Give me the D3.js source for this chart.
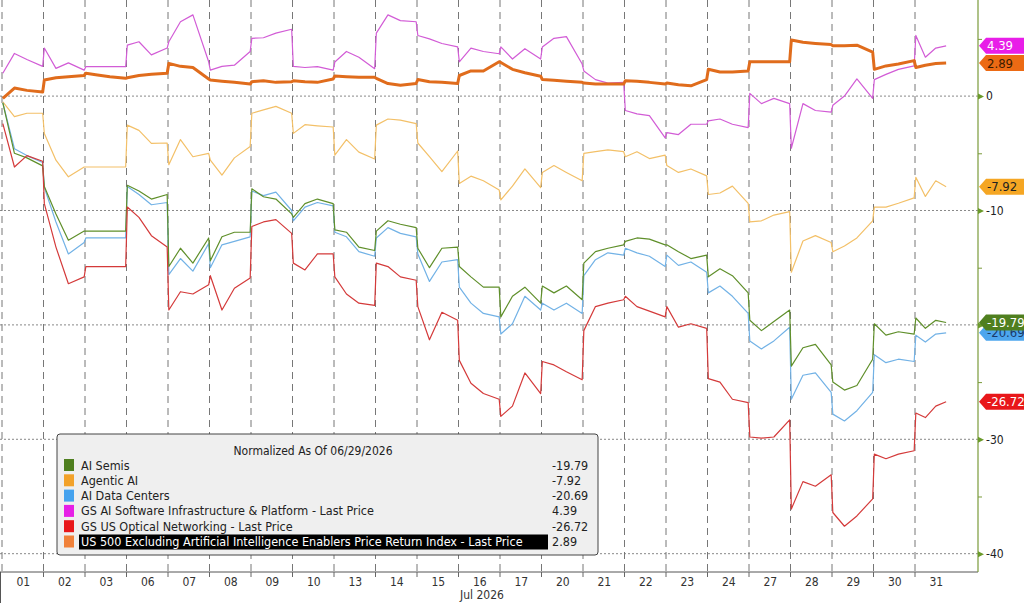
<!DOCTYPE html>
<html><head><meta charset="utf-8">
<script src="https://cdn.jsdelivr.net/npm/d3@7"></script>
<style>body{margin:0;background:#fff}svg{display:block}text{font-family:"Liberation Sans Narrow","DejaVu Sans Condensed","Liberation Sans",sans-serif}</style>
</head><body><svg id="c" width="1024" height="603"></svg>
<script>
const dayLabels=["01","02","03","06","07","08","09","10","13","14","15","16","17","20","21","22","23","24","27","28","29","30","31"];
const fracs=[0.02,0.3,0.6,0.98];
const lastFracs=[0.02,0.25,0.5,0.75];
const usEx=[-0.2,0.7,0.5,0.35, 1.4,1.6,1.7,1.8, 2.0,1.85,1.7,1.55, 1.6,1.8,1.9,2.0, 2.86,2.6,2.5,1.5, 1.4,1.3,1.2,1.05, 1.26,1.35,1.2,1.26, 1.35,1.25,1.2,1.5, 1.75,1.7,1.65,1.65, 1.55,1.1,0.95,1.1, 1.45,1.25,1.2,1.1, 1.8,2.2,2.2,3.0, 2.94,2.34,2.04,1.74, 1.44,1.38,1.29,1.2, 1.14,1.05,1.05,1.05, 1.35,1.29,1.2,1.05, 1.14,1.0,0.9,1.44, 2.34,2.1,2.1,2.2, 3.0,3.0,3.0,3.0, 4.9,4.7,4.6,4.5, 4.4,4.4,4.45,3.85, 2.34,2.64,2.8,3.1, 2.5,2.7,2.85,2.89];
const gsSoft=[2.0,3.73,3.2,2.6, 4.2,2.42,2.9,2.27, 2.57,2.57,2.57,2.57, 4.46,4.75,3.6,4.2, 4.75,6.5,7.1,3.0, 2.27,2.6,2.7,3.9, 5.05,5.1,5.5,5.84, 2.6,2.5,2.57,2.27, 2.98,3.9,3.4,2.4, 5.5,7.1,6.6,6.5, 5.3,5.0,4.6,4.3, 3.0,4.2,3.9,3.7, 4.3,3.24,4.14,3.24, 4.3,5.05,5.2,2.8, 2.2,1.44,1.14,1.2, -1.26,-1.56,-1.71,-3.66, -3.2,-3.36,-2.46,-2.46, -2.16,-2.0,-2.46,-2.76, 0.24,-0.66,-0.2,-0.66, -4.56,-0.66,-1.26,-1.4, -0.8,0.0,1.5,-0.2, 1.44,1.9,2.34,2.64, 5.3,3.4,4.2,4.39];
const agentic=[-0.5,-1.8,-1.5,-1.5, -3.27,-5.6,-7.06,-6.2, -6.2,-6.2,-6.2,-6.2, -2.54,-3.0,-4.14,-4.1, -6.0,-3.8,-5.3,-5.0, -5.6,-6.9,-5.4,-4.4, -1.5,-1.2,-0.9,-1.5, -3.26,-2.5,-2.6,-2.7, -5.16,-3.8,-4.9,-5.5, -2.54,-2.0,-2.1,-2.4, -4.1,-5.3,-6.6,-4.8, -7.64,-7.0,-7.4,-8.2, -9.07,-7.87,-6.37,-8.0, -6.67,-6.07,-6.67,-7.4, -5.0,-4.86,-4.7,-4.86, -5.3,-4.86,-5.46,-5.16, -6.07,-6.67,-6.37,-6.97, -8.6,-8.47,-7.87,-9.37, -11.0,-10.9,-10.4,-10.1, -15.4,-12.67,-12.2,-12.8, -13.6,-13.1,-12.4,-10.9, -9.7,-9.7,-9.37,-8.9, -7.1,-8.77,-7.4,-7.92];
const semis=[-0.6,-5.0,-5.4,-6.1, -7.9,-10.3,-12.6,-11.8, -11.8,-11.8,-11.8,-11.8, -7.8,-8.3,-9.0,-8.6, -14.9,-13.3,-14.6,-12.4, -14.4,-12.3,-11.9,-11.9, -8.1,-8.8,-9.0,-10.3, -10.6,-9.4,-9.0,-9.4, -11.7,-11.9,-13.2,-13.5, -11.8,-10.9,-11.2,-11.5, -13.3,-15.0,-13.3,-13.2, -14.9,-15.8,-16.7,-16.7, -19.3,-17.5,-16.7,-18.1, -16.6,-17.2,-16.6,-17.8, -14.6,-13.6,-13.3,-13.0, -12.7,-12.4,-12.5,-13.0, -13.0,-13.6,-14.2,-13.9, -15.8,-15.1,-15.7,-17.2, -19.6,-20.5,-19.7,-18.7, -23.6,-22.0,-21.7,-23.5, -25.0,-25.7,-25.3,-23.0, -19.9,-20.9,-20.6,-20.8, -19.4,-20.3,-19.6,-19.79];
const dataCenters=[-0.6,-4.6,-5.2,-5.8, -8.0,-11.0,-13.8,-12.8, -12.4,-12.4,-12.4,-12.4, -7.9,-8.6,-9.5,-9.3, -15.6,-14.2,-15.3,-12.9, -15.0,-13.0,-12.7,-12.3, -8.3,-8.7,-8.4,-10.0, -10.9,-9.7,-9.3,-9.6, -11.9,-12.3,-13.6,-14.0, -12.4,-11.5,-12.0,-12.3, -13.8,-16.2,-14.5,-14.3, -16.7,-18.1,-19.0,-19.3, -20.8,-19.9,-17.5,-18.7, -18.1,-18.7,-18.1,-19.0, -15.7,-14.3,-13.7,-13.9, -13.3,-13.7,-14.0,-14.9, -13.9,-14.8,-14.5,-15.4, -17.2,-16.6,-17.5,-19.0, -21.4,-22.1,-21.4,-20.2, -26.5,-24.4,-24.2,-25.9, -27.8,-28.4,-27.5,-25.9, -22.6,-23.3,-23.0,-23.2, -20.9,-21.5,-20.8,-20.69];
const optical=[-2.4,-6.2,-5.2,-5.7, -9.4,-13.2,-16.4,-15.8, -14.9,-14.9,-14.9,-14.9, -9.7,-10.6,-12.2,-13.2, -18.7,-17.1,-17.3,-16.5, -15.7,-18.7,-16.8,-15.9, -11.4,-11.0,-10.8,-12.0, -14.6,-15.2,-13.8,-13.8, -15.8,-17.3,-18.1,-18.3, -14.6,-14.9,-15.8,-16.1, -18.4,-21.3,-18.9,-19.6, -23.1,-25.1,-26.0,-26.5, -28.0,-27.1,-24.2,-26.0, -23.2,-23.5,-24.1,-24.8, -20.5,-18.4,-18.1,-17.8, -17.5,-18.4,-18.8,-19.3, -18.4,-20.2,-19.9,-20.3, -24.7,-25.0,-26.5,-26.8, -29.8,-29.9,-29.8,-28.3, -36.1,-33.7,-34.1,-33.1, -36.4,-37.6,-36.7,-35.2, -31.3,-31.7,-31.3,-31.0, -27.7,-28.1,-27.1,-26.72];
const names=["AI Semis","Agentic AI","AI Data Centers","GS AI Software Infrastructure & Platform - Last Price","GS US Optical Networking - Last Price","US 500 Excluding Artificial Intelligence Enablers Price Return Index - Last Price"];
const lastVals=["-19.79","-7.92","-20.69","4.39","-26.72","2.89"];
const yTicks=[0,-10,-20,-30,-40];

const times=[];
dayLabels.forEach((d,i)=>(i===dayLabels.length-1?lastFracs:fracs).forEach(f=>times.push(i+f)));
const series=[
 {v:semis,line:"#5f8f2a",leg:"#4f7f1f",w:1.2,tag:"#4f7f1f",tc:"#fff"},
 {v:agentic,line:"#f3c068",leg:"#f2a22a",w:1.2,tag:"#f5a623",tc:"#222"},
 {v:dataCenters,line:"#72b2e6",leg:"#45a2ee",w:1.2,tag:"#4da6ee",tc:"#1a3a6a"},
 {v:gsSoft,line:"#d25cd6",leg:"#e61fe6",w:1.2,tag:"#e81ee8",tc:"#fff"},
 {v:optical,line:"#d43a3a",leg:"#e8171a",w:1.2,tag:"#e8171a",tc:"#fff"},
 {v:usEx,line:"#e06c1c",leg:"#f0813a",w:3,tag:"#ec6a14",tc:"#3a1a00"}
];
const svg=d3.select("#c");
const x=d3.scaleLinear().domain([0,23]).range([2,956.5]);
const y=d3.scaleLinear().domain([8.4,-41.6]).range([0,572]);
const AX=978;
// grid
svg.append("g").selectAll("line").data(yTicks).join("line")
 .attr("x1",0).attr("x2",AX).attr("y1",d=>y(d)).attr("y2",d=>y(d))
 .attr("stroke","#888").attr("stroke-dasharray","2,2").attr("stroke-width",1);
svg.append("g").selectAll("line").data(d3.range(0,23)).join("line")
 .attr("x1",d=>x(d)).attr("x2",d=>x(d)).attr("y1",0).attr("y2",572)
 .attr("stroke","#777").attr("stroke-dasharray","7,5").attr("stroke-width",1);
// lines
const order=[1,3,2,0,4,5];
order.forEach(i=>{const s=series[i];
 svg.append("path").datum(s.v).attr("fill","none").attr("stroke",s.line).attr("stroke-width",s.w).attr("stroke-linejoin","round")
 .attr("d",d3.line().x((d,j)=>x(times[j])).y(d=>y(d)));});
// axes
svg.append("line").attr("x1",0).attr("x2",AX).attr("y1",572).attr("y2",572).attr("stroke","#555");
svg.append("line").attr("x1",0.5).attr("x2",0.5).attr("y1",572).attr("y2",603).attr("stroke","#555");
svg.append("line").attr("x1",AX).attr("x2",AX).attr("y1",0).attr("y2",572).attr("stroke","#7a9a3a").attr("stroke-width",1.2);
const ya=d3.axisRight(y).tickValues(d3.range(5,-41,-5)).tickSize(4).tickFormat(d=>d%10===0?(d===0?"0":"-"+Math.abs(d)):"");
const ga=svg.append("g").attr("transform",`translate(${AX},0)`).call(ya);
ga.select(".domain").remove();
ga.selectAll("line").attr("stroke","#7a9a3a");
ga.selectAll("text").attr("font-size",12).attr("fill","#222").attr("x",8);
ga.selectAll(".tick").filter(d=>d%10===0).append("path").attr("d","M0,-3L6,0L0,3Z").attr("fill","#6a9a2a");
const xa=d3.axisBottom(x).tickValues(d3.range(0,23).map(i=>i+0.5)).tickSize(0).tickFormat((d,i)=>dayLabels[i]);
const gx=svg.append("g").attr("transform","translate(0,572)").call(xa);
gx.select(".domain").remove();
gx.selectAll("text").attr("font-size",12).attr("fill","#333").attr("dy","0.9em");
svg.append("g").selectAll("line").data(d3.range(1,23)).join("line").attr("x1",d=>x(d)).attr("x2",d=>x(d)).attr("y1",572).attr("y2",577).attr("stroke","#666");
svg.append("text").attr("x",482).attr("y",599).attr("text-anchor","middle").attr("font-size",12).attr("fill","#333").text("Jul 2026");
// tags
const tagOrder=[2,0,1,5,3,4];
tagOrder.forEach(i=>{const s=series[i];const yy=y(+lastVals[i]);
 svg.append("path").attr("d",`M${AX+1},${yy}L${AX+8},${yy-8}L1024,${yy-8}L1024,${yy+8}L${AX+8},${yy+8}Z`).attr("fill",s.tag);
 svg.append("text").attr("x",AX+9).attr("y",yy+4.5).attr("font-size",13).attr("fill",s.tc).text(lastVals[i]);});
// legend
const L=svg.append("g");
L.append("rect").attr("x",57).attr("y",434).attr("width",541).attr("height",121).attr("rx",3).attr("fill","#efefef").attr("stroke","#444");
L.append("text").attr("x",313).attr("y",455).attr("text-anchor","middle").attr("font-size",12).attr("fill","#222").text("Normalized As Of 06/29/2026");
names.forEach((n,i)=>{const yy=465+i*15.3;
 L.append("rect").attr("x",64).attr("y",yy-6).attr("width",10).attr("height",12).attr("fill",series[i].leg);
 if(i===5)L.append("rect").attr("x",79).attr("y",yy-7).attr("width",469).attr("height",15).attr("fill","#000");
 L.append("text").attr("x",81).attr("y",yy+4.5).attr("font-size",12.5).attr("fill",i===5?"#fff":"#222").text(n);
 L.append("text").attr("x",552).attr("y",yy+4.5).attr("font-size",12.5).attr("fill","#222").text(lastVals[i]);});
</script></body></html>
